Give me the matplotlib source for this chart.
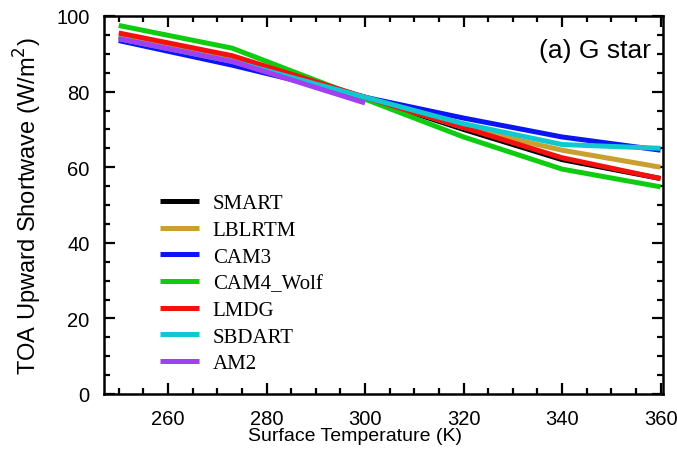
import matplotlib.pyplot as plt
from matplotlib.ticker import MultipleLocator

plt.rcParams['font.family'] = ['Liberation Sans', 'DejaVu Sans']

temps = [250, 273, 300, 320, 340, 360]
temps_am2 = [250, 273, 300]

smart = [94.5, 88.5, 78.5, 70.0, 62.0, 57.0]
lblrtm = [94.5, 88.5, 78.5, 70.5, 64.5, 60.0]
cam3 = [93.5, 87.0, 78.5, 73.0, 68.0, 64.5]
cam4_wolf = [97.5, 91.5, 78.0, 68.0, 59.5, 54.8]
lmdg = [95.5, 89.5, 78.5, 70.5, 62.5, 57.0]
sbdart = [94.0, 88.0, 78.5, 71.5, 66.0, 65.0]
am2 = [94.0, 88.0, 77.0]

series = [
    ("SMART", temps, smart, "black"),
    ("LBLRTM", temps, lblrtm, "#c9a030"),
    ("CAM3", temps, cam3, "#0a14f5"),
    ("CAM4_Wolf", temps, cam4_wolf, "#10cc10"),
    ("LMDG", temps, lmdg, "#f51010"),
    ("SBDART", temps, sbdart, "#10c8d0"),
    ("AM2", temps_am2, am2, "#a040f0"),
]

fig = plt.figure(figsize=(6.77, 4.52), dpi=100)
ax = fig.add_axes([104 / 677, 57 / 452, 559 / 677, 378 / 452])

for name, x, y, c in series:
    ax.plot(x, y, color=c, lw=3.6, label=name, solid_capstyle='butt')

ax.set_xlim(247, 360.5)
ax.set_ylim(0, 100)
ax.xaxis.set_major_locator(MultipleLocator(20))
ax.xaxis.set_minor_locator(MultipleLocator(5))
ax.yaxis.set_major_locator(MultipleLocator(20))
ax.yaxis.set_minor_locator(MultipleLocator(5))
ax.tick_params(which='both', direction='in', top=True, right=True, width=1.6)
ax.tick_params(which='major', length=8, labelsize=14.5, pad=10.5)
ax.tick_params(which='minor', length=4.5)
for s in ax.spines.values():
    s.set_linewidth(1.8)

ax.set_xlabel("Surface Temperature (K)", fontsize=14)
ax.xaxis.set_label_coords(0.449, -0.088)
ax.set_ylabel("TOA Upward Shortwave (W/m$^2$)", fontsize=17, labelpad=9)
ax.text(0.978, 0.91, "(a) G star", transform=ax.transAxes, ha='right', va='center', fontsize=19)

leg = ax.legend(loc='lower left', bbox_to_anchor=(0.066, 0.005), frameon=False,
                prop={'family': 'Liberation Serif', 'size': 15},
                handlelength=1.9, handletextpad=0.65, labelspacing=0.34)

fig.savefig("out.png", dpi=100)
